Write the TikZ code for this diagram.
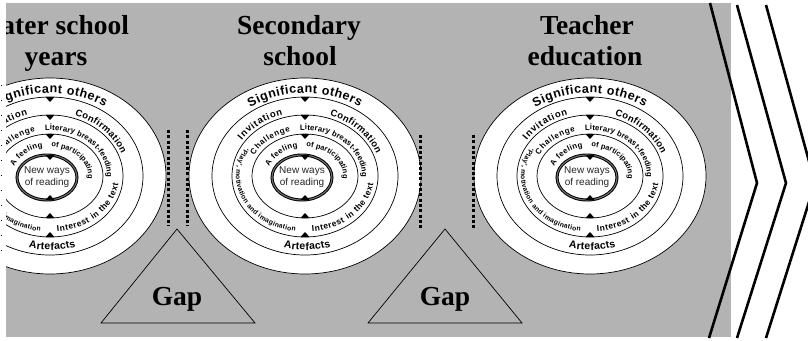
\documentclass[tikz,border=0pt]{standalone}
\usepackage{fontspec}
\setmainfont{Liberation Serif}
\newfontfamily\arialf{Liberation Sans}
\usetikzlibrary{decorations.text}
\definecolor{bggray}{RGB}{179,179,179}
\definecolor{ringgray}{RGB}{110,110,110}
\tikzset{
  ringline/.style={draw=black, line width=0.7pt},
  titletext/.style={font=\bfseries\fontsize{27.5}{30}\selectfont, anchor=base, inner sep=0pt},
  gapdots/.style={line width=3pt, dash pattern=on 3pt off 2.3pt},
  chevron/.style={line width=2.6pt, line join=miter},
  gaptri/.style={draw=black, line width=0.7pt},
  centretext/.style={font=\arialf\fontsize{10}{12}\selectfont, text=black!85, align=center, inner sep=0pt},
}
\newcommand\ringtxt[6]{%
  \path[decorate, decoration={text along path, text align={fit to path},
    text={|\arialf\bfseries\fontsize{#5}{#5}\selectfont|#6}}]
    (#3:#1 and #2) arc[start angle=#3, end angle=#4, x radius=#1, y radius=#2];}
\newcommand\ringunit[1]{%
  \begin{scope}[shift={(#1,-176)}]
    \draw[ringline, fill=white] (0,0) ellipse [x radius=116, y radius=98];
    \draw[ringline] (0,0) ellipse [x radius=93, y radius=79];
    \draw[ringline] (0,0) ellipse [x radius=73, y radius=61];
    \draw[ringline] (0,0) ellipse [x radius=53, y radius=42];
    \draw[line width=3pt] (-3,-1.5) ellipse [x radius=30, y radius=22.5];
    \draw[line width=1.1pt, ringgray] (-3,-1.5) ellipse [x radius=30, y radius=22.5];
    \foreach \yy in {79,61,42,21}{\fill (-4.5,\yy) -- (4.5,\yy) -- (0,\yy-5) -- cycle;}
    \foreach \yy in {61,42,24}{\fill (-4.5,-\yy) -- (4.5,-\yy) -- (0,-\yy+5) -- cycle;}
    \ringtxt{98}{83}{124}{56}{12.5}{Significant others}
    \ringtxt{76}{64}{146}{107}{9.5}{Invitation}
    \ringtxt{76}{64}{71}{20}{9.5}{Confirmation}
    \ringtxt{57}{46}{153}{105}{8}{Challenge}
    \ringtxt{57}{46}{95}{-2}{7.8}{Literary breast-feeding}
    \ringtxt{38}{29}{160}{101}{7.8}{A feeling}
    \ringtxt{38}{29}{88}{-6}{7.4}{of participating}
    \ringtxt{69}{56}{150}{262}{6.8}{'Play'{,} motivation and imagination}
    \ringtxt{69}{56}{276}{352}{8.5}{Interest in the text}
    \ringtxt{88}{74}{256}{287}{10.5}{Artefacts}
    \node[centretext] (nw#1) at (-3,-1.5) {New ways\\of reading};
  \end{scope}}
\begin{document}
\begin{tikzpicture}[x=1pt, y=1pt]
  \useasboundingbox (0,0) rectangle (808,-340);
  \fill[white] (0,0) rectangle (808,-340);
  \draw[line width=0.8pt, dash pattern=on 1pt off 14pt] (1,-85) -- (1,-265);
  \begin{scope}
    \clip (6,-3) rectangle (731,-337);
    \fill[bggray] (6,-3) rectangle (731,-337);
    \ringunit{50}
    \ringunit{305}
    \ringunit{590}
    \node[titletext] (t1a) at (56,-34) {Later school};
    \node[titletext] (t1b) at (56,-65) {years};
    \node[titletext] (t2a) at (299,-34) {Secondary};
    \node[titletext] (t2b) at (300,-65) {school};
    \node[titletext] (t3a) at (587,-34) {Teacher};
    \node[titletext] (t3b) at (585,-65) {education};
    \draw[gaptri] (101,-323) -- (177,-229) -- (255,-323) -- cycle;
    \draw[gaptri] (368,-323) -- (445,-229) -- (522,-323) -- cycle;
    \node[titletext] (g1) at (177,-305) {Gap};
    \node[titletext] (g2) at (445,-305) {Gap};
    \draw[gapdots] (168,-130) -- (168,-226);
    \draw[gapdots] (187,-130) -- (187,-226);
    \draw[gapdots] (420,-135) -- (420,-228);
    \draw[gapdots] (473,-135) -- (473,-228);
  \end{scope}
  \draw[chevron] (710,-3) -- (757,-183) -- (709,-338);
  \draw[chevron] (737,-5) -- (786,-183) -- (737,-338);
  \draw[chevron] (766,-5) -- (815,-183) -- (766,-338);
\end{tikzpicture}
\end{document}
